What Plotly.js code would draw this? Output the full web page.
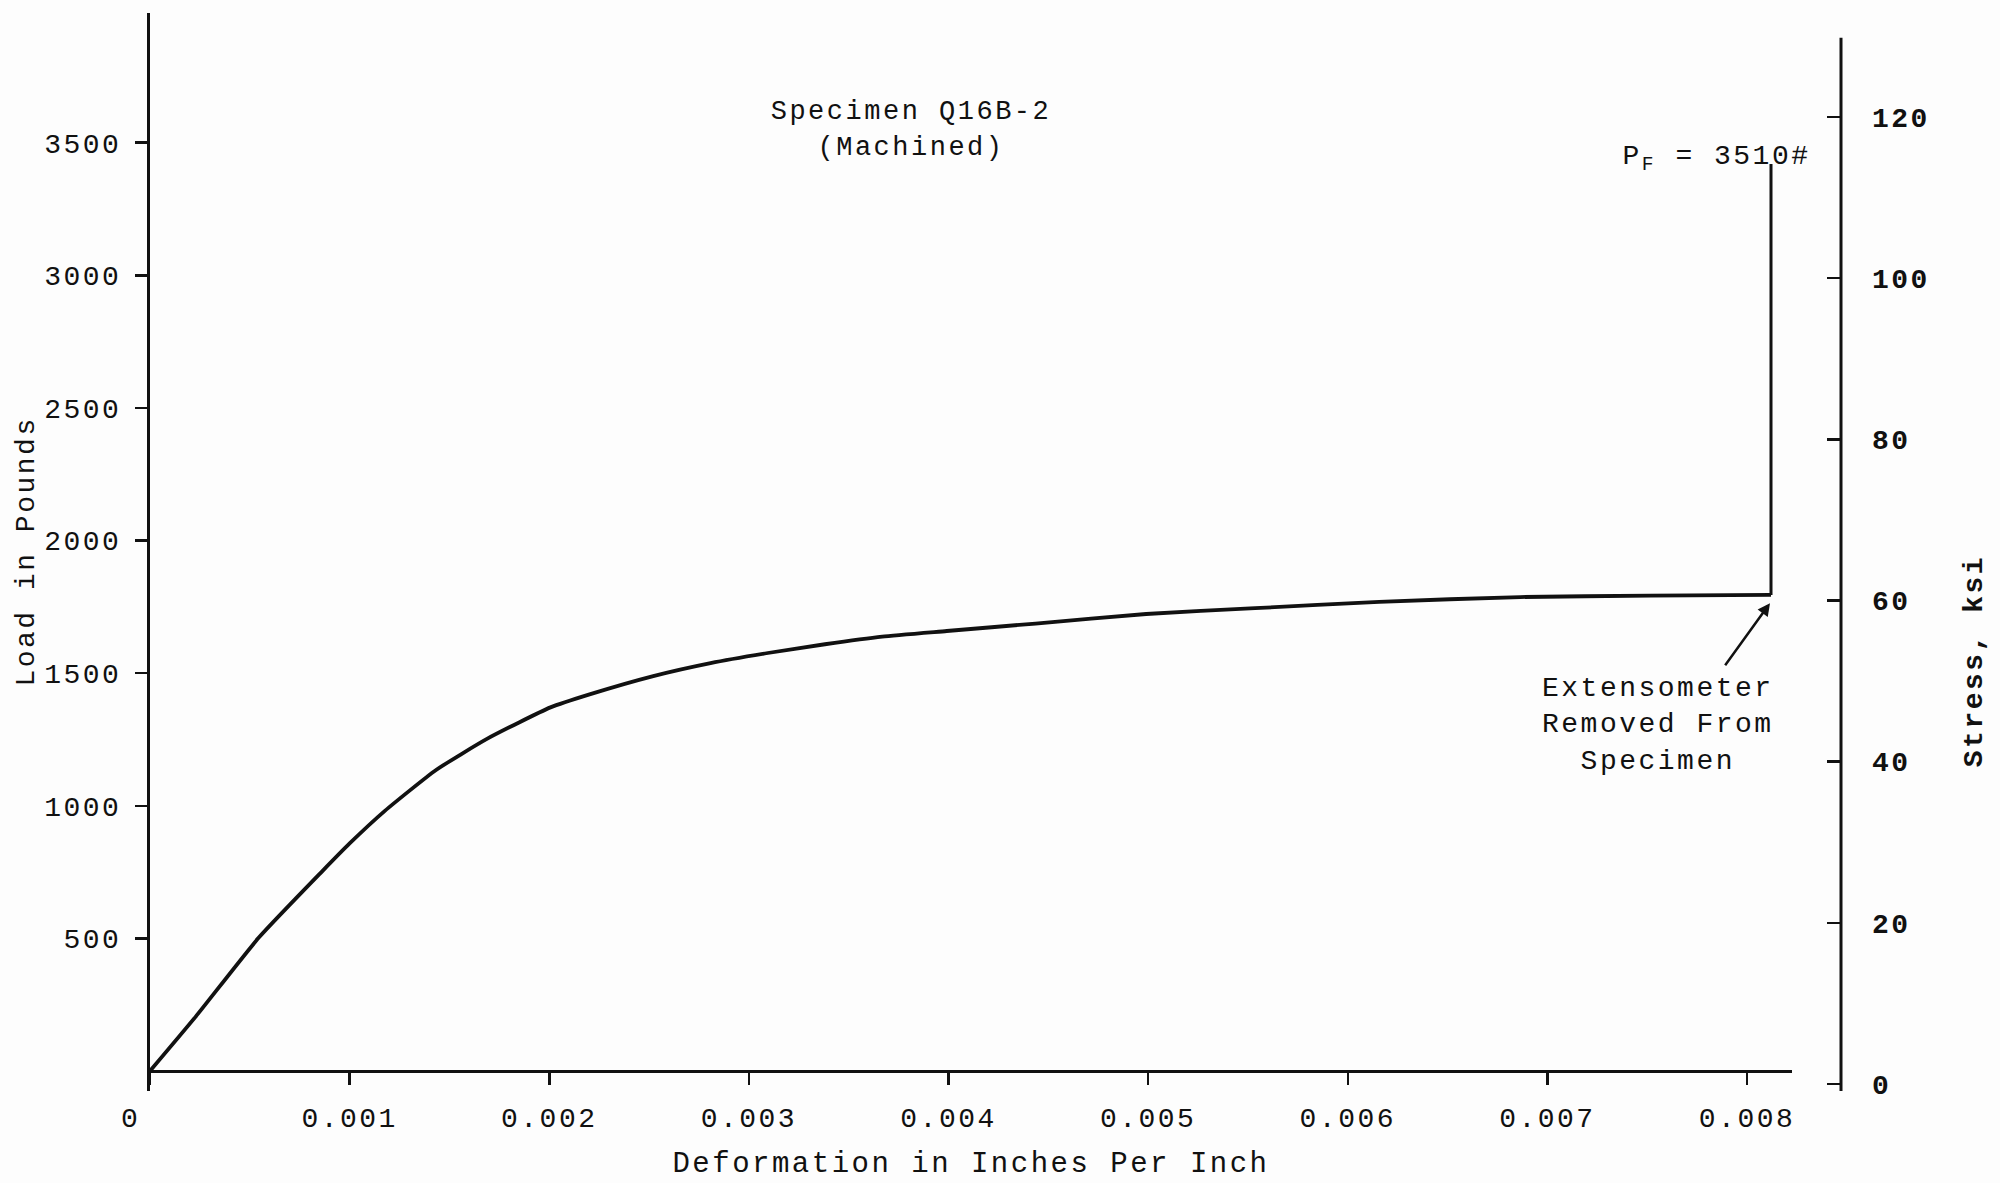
<!DOCTYPE html>
<html><head><meta charset="utf-8">
<script src="https://cdn.plot.ly/plotly-3.0.1.min.js"></script>
<style>
html,body{margin:0;padding:0;background:#fdfdfd}
#chart svg text{letter-spacing:2.5px}
</style>
</head><body><div id="chart" style="width:2000px;height:1183px"></div>
<script>
// Load-deformation curve (strain in in/in, load in lb)
const strain = [0, 0.000229, 0.000544, 0.00086, 0.001, 0.001175, 0.001433, 0.00169, 0.002006, 0.002206, 0.002521, 0.002808, 0.003095, 0.003381, 0.003668, 0.003991, 0.004436, 0.00499, 0.005536, 0.006157, 0.006864, 0.007515, 0.00812];
const load = [0, 205, 502, 751, 858, 980, 1135, 1253, 1371, 1421, 1489, 1538, 1576, 1609, 1638, 1659, 1687, 1723, 1745, 1769, 1787, 1792, 1795];
// After extensometer removal: load rises to failure
const failStrain = [0.00812, 0.00812];
const failLoad = [1795, 3420];

const xTickVals = [0, 0.001, 0.002, 0.003, 0.004, 0.005, 0.006, 0.007, 0.008];
const xTickText = ['0\u00a0\u00a0', '0.001', '0.002', '0.003', '0.004', '0.005', '0.006', '0.007', '0.008'];
const loadTickVals = [500, 1000, 1500, 2000, 2500, 3000, 3500];
const stressTickVals = [0, 20, 40, 60, 80, 100, 120];

const titleText = 'Specimen Q16B-2<br>(Machined)';
const xTitle = 'Deformation in Inches Per Inch';
const yTitle = 'Load in Pounds';
const y2Title = 'Stress, ksi';
const failLabel = 'P<sub>F</sub> = 3510#';
const noteLabel = 'Extensometer<br>Removed From<br>Specimen';

const ink = '#111111';
const mono = 'Liberation Mono, DejaVu Sans Mono, monospace';

const traces = [
  {x: strain, y: load, mode: 'lines', line: {color: ink, width: 3.8, shape: 'spline', smoothing: 0.5}, hoverinfo: 'skip'},
  {x: failStrain, y: failLoad, mode: 'lines', line: {color: ink, width: 3}, hoverinfo: 'skip'},
  {x: [0], y: [0], yaxis: 'y2', mode: 'markers', marker: {opacity: 0}, hoverinfo: 'skip'}
];

const layout = {
  width: 2000, height: 1183,
  margin: {l: 150, r: 159, t: 13, b: 92},
  paper_bgcolor: '#fdfdfd', plot_bgcolor: 'rgba(0,0,0,0)',
  showlegend: false,
  font: {family: mono, size: 28, color: ink},
  title: {text: titleText, x: 0.4555, xanchor: 'center', y: 0.899, yanchor: 'top', font: {family: mono, size: 27, color: ink}},
  xaxis: {
    domain: [0, 0.971], range: [0, 0.008225], anchor: 'free', position: 0.0186,
    showline: true, linewidth: 3, linecolor: ink, ticks: 'outside', ticklen: 12, tickwidth: 2.5, tickcolor: ink,
    tickvals: xTickVals, ticktext: xTickText, showgrid: false, zeroline: false, ticklabelstandoff: 8,
    tickfont: {size: 28},
    title: {text: xTitle, standoff: 18, font: {size: 29}}
  },
  yaxis: {
    range: [-75.4, 3989], showline: true, linewidth: 3, linecolor: ink,
    ticks: 'outside', ticklen: 12, tickwidth: 2.5, tickcolor: ink,
    tickvals: loadTickVals, showgrid: false, zeroline: false, ticklabelstandoff: 8,
    tickfont: {size: 28}, automargin: false
  },
  yaxis2: {
    overlaying: 'y', side: 'right', anchor: 'free', position: 1,
    range: [-0.87, 132.9], showline: false, ticks: 'inside', ticklen: 14, tickwidth: 2.5, tickcolor: ink,
    tickvals: stressTickVals, showgrid: false, zeroline: false, ticklabelstandoff: 30,
    tickfont: {size: 28, family: mono, weight: 'bold'}, automargin: false
  },
  shapes: [
    {type: 'line', xref: 'paper', yref: 'paper', x0: 1, x1: 1, y0: 0, y1: 0.977, line: {color: ink, width: 3}}
  ],
  annotations: [
    {x: -0.0733, y: 0.5, xref: 'paper', yref: 'paper', text: yTitle, textangle: -90, showarrow: false, xanchor: 'center', yanchor: 'middle', font: {size: 28}},
    {x: 0.007846, y: 3440, xref: 'x', yref: 'y', text: failLabel, showarrow: false, xanchor: 'center', yanchor: 'middle', font: {size: 28}},
    {x: 0.007555, y: 1305, xref: 'x', yref: 'y', text: noteLabel, showarrow: false, xanchor: 'center', yanchor: 'middle', font: {size: 28}},
    {x: 0.008115, y: 1764, ax: 0.007885, ay: 1524, xref: 'x', yref: 'y', axref: 'x', ayref: 'y', text: '', showarrow: true, arrowhead: 2, arrowsize: 1, arrowwidth: 2.5, arrowcolor: ink},
    {x: 1.079, y: 0.399, xref: 'paper', yref: 'paper', text: y2Title, textangle: -90, showarrow: false, xanchor: 'center', yanchor: 'middle', font: {size: 28, weight: 'bold'}}
  ]
};

Plotly.newPlot('chart', traces, layout, {displayModeBar: false, staticPlot: true});
</script>
</body></html>
